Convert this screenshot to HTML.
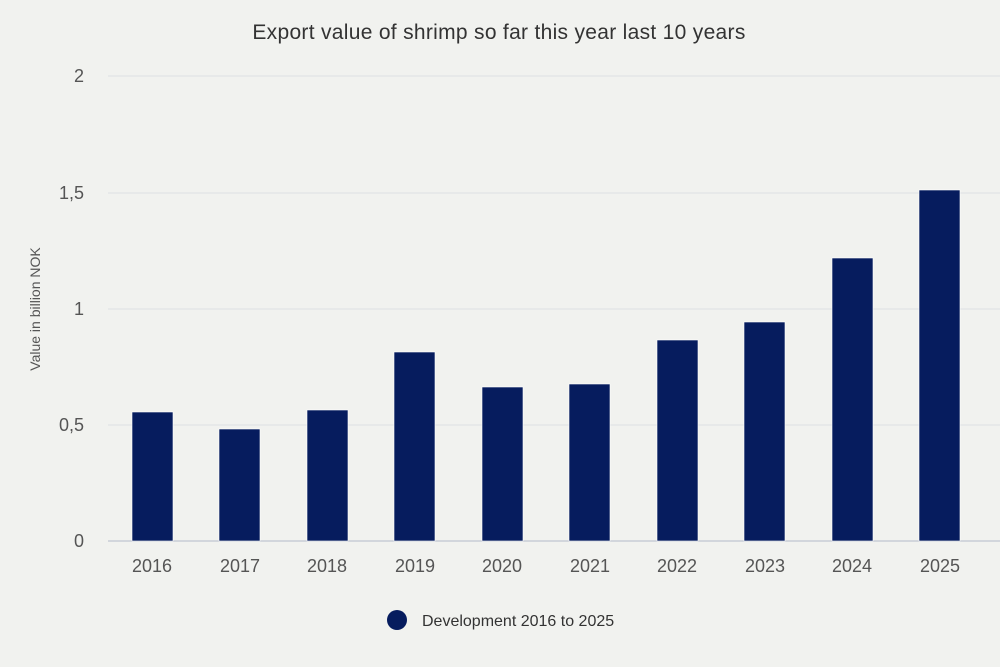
<!DOCTYPE html>
<html><head><style>
body{margin:0;background:#f1f2ef;}
svg{display:block;font-family:"Liberation Sans",sans-serif;}
</style></head><body>
<svg width="1000" height="667" viewBox="0 0 1000 667">
<rect width="1000" height="667" fill="#f1f2ef"/>
<text x="499" y="39" text-anchor="middle" font-size="21" letter-spacing="0.3" fill="#333">Export value of shrimp so far this year last 10 years</text>
<g stroke="#dde0e3" stroke-width="1">
<line x1="108" y1="76" x2="1000" y2="76"/>
<line x1="108" y1="193" x2="1000" y2="193"/>
<line x1="108" y1="309" x2="1000" y2="309"/>
<line x1="108" y1="425" x2="1000" y2="425"/>
</g>
<line x1="108" y1="541" x2="1000" y2="541" stroke="#c8ccd6" stroke-width="1.5"/>
<g font-size="18" fill="#555" text-anchor="end">
<text x="84" y="82">2</text>
<text x="84" y="199">1,5</text>
<text x="84" y="315">1</text>
<text x="84" y="431">0,5</text>
<text x="84" y="547">0</text>
</g>
<text transform="translate(40,309) rotate(-90)" text-anchor="middle" font-size="14" fill="#555">Value in billion NOK</text>
<g fill="#061c5e" stroke="#ffffff" stroke-width="0.6">
<rect x="132" y="412" width="41" height="129"/>
<rect x="219" y="429" width="41" height="112"/>
<rect x="307" y="410" width="41" height="131"/>
<rect x="394" y="352" width="41" height="189"/>
<rect x="482" y="387" width="41" height="154"/>
<rect x="569" y="384" width="41" height="157"/>
<rect x="657" y="340" width="41" height="201"/>
<rect x="744" y="322" width="41" height="219"/>
<rect x="832" y="258" width="41" height="283"/>
<rect x="919" y="190" width="41" height="351"/>
</g>
<g font-size="18" fill="#555" text-anchor="middle">
<text x="152" y="572">2016</text>
<text x="240" y="572">2017</text>
<text x="327" y="572">2018</text>
<text x="415" y="572">2019</text>
<text x="502" y="572">2020</text>
<text x="590" y="572">2021</text>
<text x="677" y="572">2022</text>
<text x="765" y="572">2023</text>
<text x="852" y="572">2024</text>
<text x="940" y="572">2025</text>
</g>
<circle cx="397" cy="620" r="10" fill="#061c5e"/>
<text x="422" y="626" font-size="16" fill="#333">Development 2016 to 2025</text>
</svg>
</body></html>
